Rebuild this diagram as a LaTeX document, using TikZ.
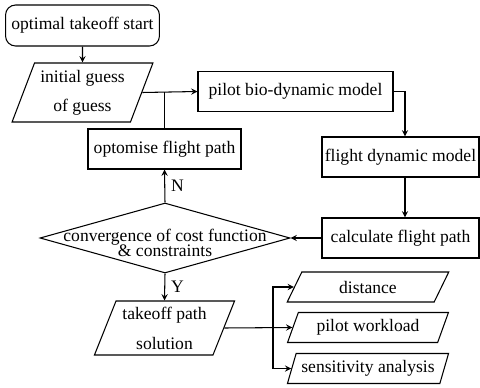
\documentclass[tikz,border=0pt]{standalone}
\usepackage{fontspec}
\setmainfont{Liberation Serif}
\newfontfamily\flowfont{Liberation Serif}
\usepackage{tikz}
\usetikzlibrary{shapes}
\usetikzlibrary{shapes.geometric}
\usetikzlibrary{arrows}

\tikzset{
    process/.style={draw, rectangle, line width=0.6pt, inner sep=1pt,
        minimum height=0.8cm},
    datain/.style={draw, trapezium, trapezium left angle=67,
        trapezium right angle=113, trapezium stretches=true,
        line width=0.6pt, inner sep=1pt, align=center},
    flowline/.style={line width=0.6pt, ->, >=stealth}
}

\begin{document}
\begin{tikzpicture}[scale=1.0, every node/.style={font=\flowfont}]
        \useasboundingbox (0,0) rectangle (9.6,-7.76);

        % Start
        \node[draw, rounded corners=0.2cm, line width=0.6pt, minimum width=2.98cm,
            minimum height=0.82cm] (start) at (1.65,-0.51) {optimal takeoff start};

        % Initial guess
        \node[datain, minimum width=2.82cm, minimum height=1.18cm]
            (guess) at (1.65,-1.85) {initial guess\\[4.5pt] of guess};

        % Pilot model
        \node[process, minimum width=3.9cm] (pilot) at (5.91,-1.83)
            {pilot bio-dynamic model};

        % Optimiser
        \node[process, minimum width=3.06cm] (optim) at (3.29,-2.98)
            {optomise flight path};

        % Flight model
        \node[process, minimum width=3.14cm] (flight) at (8.01,-3.14)
            {flight dynamic model};

        % Flight path
        \node[process, minimum width=3.14cm] (calc) at (8.01,-4.76)
            {calculate flight path};

        % Convergence check
        \node[draw, diamond, line width=0.6pt, minimum width=5.0cm,
            minimum height=1.4cm, inner sep=0pt] (conv) at (3.3,-4.76) {};
        \node[align=center, inner sep=0pt] (convtext) at (3.3,-4.86)
            {convergence of cost function\\[-3.5pt] \& constraints};

        % Solution
        \node[datain, minimum width=2.82cm, minimum height=1.08cm]
            (sol) at (3.29,-6.56) {takeoff path\\[5pt] solution};

        % Outputs
        \node[datain, minimum width=3.24cm, minimum height=0.6cm]
            (dist) at (7.36,-5.74) {distance};
        \node[datain, minimum width=3.24cm, minimum height=0.6cm]
            (work) at (7.36,-6.55) {pilot workload};
        \node[datain, minimum width=3.24cm, minimum height=0.6cm]
            (sens) at (7.36,-7.37) {sensitivity analysis};

        % connectors
        \draw[flowline] (start) -- (guess);
        \draw[flowline] (guess.east) -- (pilot.west);
        \draw[line width=0.6pt] (optim.north) -- (optim.north |- pilot.west);
        \draw[flowline] (pilot.east) -| ([xshift=0.09cm]flight.north);
        \draw[flowline] ([xshift=0.09cm]flight.south) -- ([xshift=0.09cm]calc.north);
        \draw[flowline] (calc) -- (conv.east);
        \draw[flowline] (conv.north) -- node[right] {N} (optim.south);
        \draw[flowline] (conv.south) -- node[right] {Y} (sol.north);

        \coordinate (split) at (5.46,-6.55);
        \draw[flowline] (sol.east) -- (work.west);
        \draw[flowline] (split) |- (dist.west);
        \draw[flowline] (split) |- (sens.west);

\end{tikzpicture}
\end{document}
